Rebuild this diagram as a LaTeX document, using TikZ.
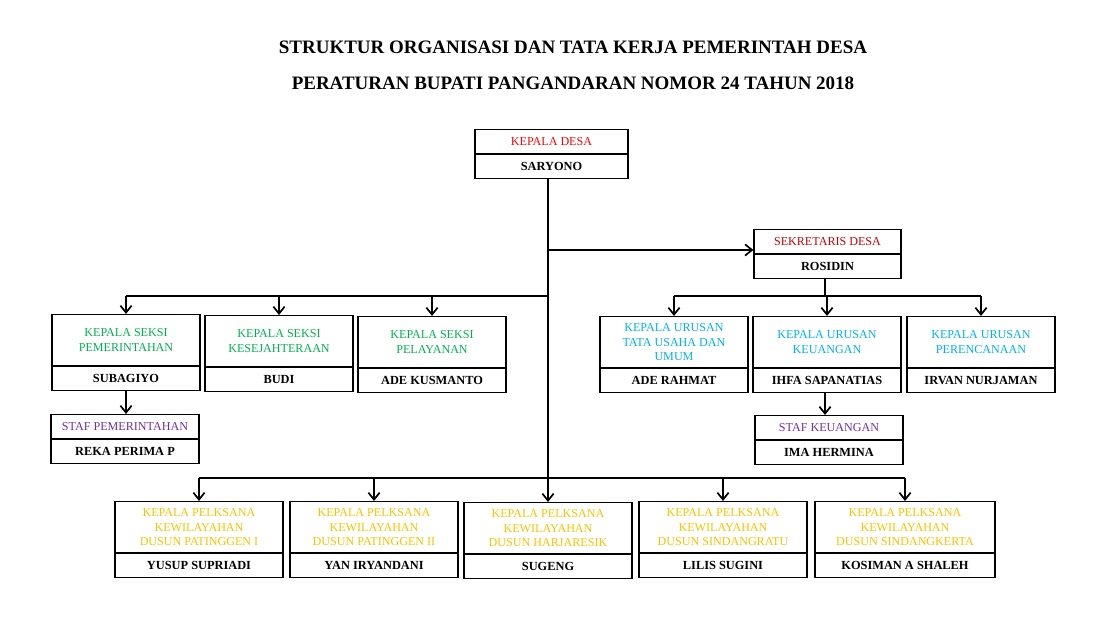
\documentclass[tikz,border=0pt]{standalone}
\usepackage{fontspec}
\setmainfont{Liberation Serif}
\usetikzlibrary{arrows.meta}
\definecolor{grn}{RGB}{0,176,80}
\definecolor{cyn}{RGB}{0,176,240}
\definecolor{purp}{RGB}{112,48,160}
\definecolor{gold}{RGB}{255,192,0}
\tikzset{
  unit/.style={draw, thick, inner sep=1pt, align=center, anchor=north, font=\fontsize{8.6}{10.2}\selectfont},
  person/.style={draw, thick, inner sep=1pt, anchor=north, minimum height=0.6cm, font=\fontsize{8.8}{10}\selectfont\bfseries},
  line/.style={line width=1.2pt},
  arr/.style={line width=1.2pt, -{Straight Barb[length=5pt,width=8pt,line width=1.2pt]}}
}
% id, cx, top, width, title height, color, title, name
\newcommand{\orgunit}[8]{%
  \node[unit, text=#6, minimum width=#4*0.025cm, minimum height=#5*0.025cm] (#1) at (#2,#3) {#7};
  \node[person, minimum width=#4*0.025cm] (#1-n) at (#1.south) {#8};
}
\begin{document}
\begin{tikzpicture}[x=0.025cm, y=-0.025cm]
    \useasboundingbox (0,0) rectangle (1114,628);
    % Title
    \node[font=\fontsize{13.5}{15}\selectfont\bfseries] (title1) at (573,47) {STRUKTUR ORGANISASI DAN TATA KERJA PEMERINTAH DESA};
    \node[font=\fontsize{13.5}{15}\selectfont\bfseries] (title2) at (573,83) {PERATURAN BUPATI PANGANDARAN NOMOR 24 TAHUN 2018};

    % Head and secretary
    \orgunit{desa}{551.5}{129}{153}{24}{red}{KEPALA DESA}{SARYONO}
    \orgunit{sekdes}{827.5}{229}{147}{24}{red!80!black}{SEKRETARIS DESA}{ROSIDIN}

    % Seksi
    \orgunit{pem}{126}{314}{148}{51}{grn}{KEPALA SEKSI\\PEMERINTAHAN}{SUBAGIYO}
    \orgunit{kes}{279}{315}{148}{51}{grn}{KEPALA SEKSI\\KESEJAHTERAAN}{BUDI}
    \orgunit{pel}{432}{316}{148}{51}{grn}{KEPALA SEKSI\\PELAYANAN}{ADE KUSMANTO}
    \orgunit{stafpem}{125}{414}{148}{24}{purp}{STAF PEMERINTAHAN}{REKA PERIMA P}

    % Urusan
    \orgunit{tu}{674}{316}{148}{51}{cyn}{KEPALA URUSAN\\TATA USAHA DAN\\UMUM}{ADE RAHMAT}
    \orgunit{keu}{827}{316}{148}{51}{cyn}{KEPALA URUSAN\\KEUANGAN}{IHFA SAPANATIAS}
    \orgunit{ren}{981}{316}{148}{51}{cyn}{KEPALA URUSAN\\PERENCANAAN}{IRVAN NURJAMAN}
    \orgunit{stafkeu}{829}{415}{148}{24}{purp}{STAF KEUANGAN}{IMA HERMINA}

    % Dusun
    \orgunit{d1}{199}{501}{168}{51}{gold}{KEPALA PELKSANA\\KEWILAYAHAN\\DUSUN PATINGGEN I}{YUSUP SUPRIADI}
    \orgunit{d2}{374}{501}{168}{51}{gold}{KEPALA PELKSANA\\KEWILAYAHAN\\DUSUN PATINGGEN II}{YAN IRYANDANI}
    \orgunit{d3}{548}{502}{168}{51}{gold}{KEPALA PELKSANA\\KEWILAYAHAN\\DUSUN HARJARESIK}{SUGENG}
    \orgunit{d4}{723}{501}{168}{51}{gold}{KEPALA PELKSANA\\KEWILAYAHAN\\DUSUN SINDANGRATU}{LILIS SUGINI}
    \orgunit{d5}{905}{501}{180}{51}{gold}{KEPALA PELKSANA\\KEWILAYAHAN\\DUSUN SINDANGKERTA}{KOSIMAN A SHALEH}

    % Buses
    \coordinate (busL) at (548,296);
    \coordinate (busB) at (548,478);
    \coordinate (busR) at (825,296);
    \coordinate (busS) at (548,250);

    % Edges
    \draw[line] (desa-n.south -| busB) -- (busB);
    \draw[arr] (busS) -- (sekdes.west |- busS);
    \draw[line] (pem.north |- busL) -- (busL);
    \foreach \u in {pem,kes,pel} \draw[arr] (\u.north |- busL) -- (\u.north);
    \draw[line] (sekdes-n.south -| busR) -- (busR);
    \draw[line] (tu.north |- busR) -- (ren.north |- busR);
    \foreach \u in {tu,keu,ren} \draw[arr] (\u.north |- busR) -- (\u.north);
    \draw[arr] (pem-n.south) -- (pem-n.south |- stafpem.north);
    \draw[arr] (keu-n.south -| busR) -- (stafkeu.north -| busR);
    \draw[line] (d1.north |- busB) -- (d5.north |- busB);
    \foreach \u in {d1,d2,d3,d4,d5} \draw[arr] (\u.north |- busB) -- (\u.north);
\end{tikzpicture}
\end{document}
